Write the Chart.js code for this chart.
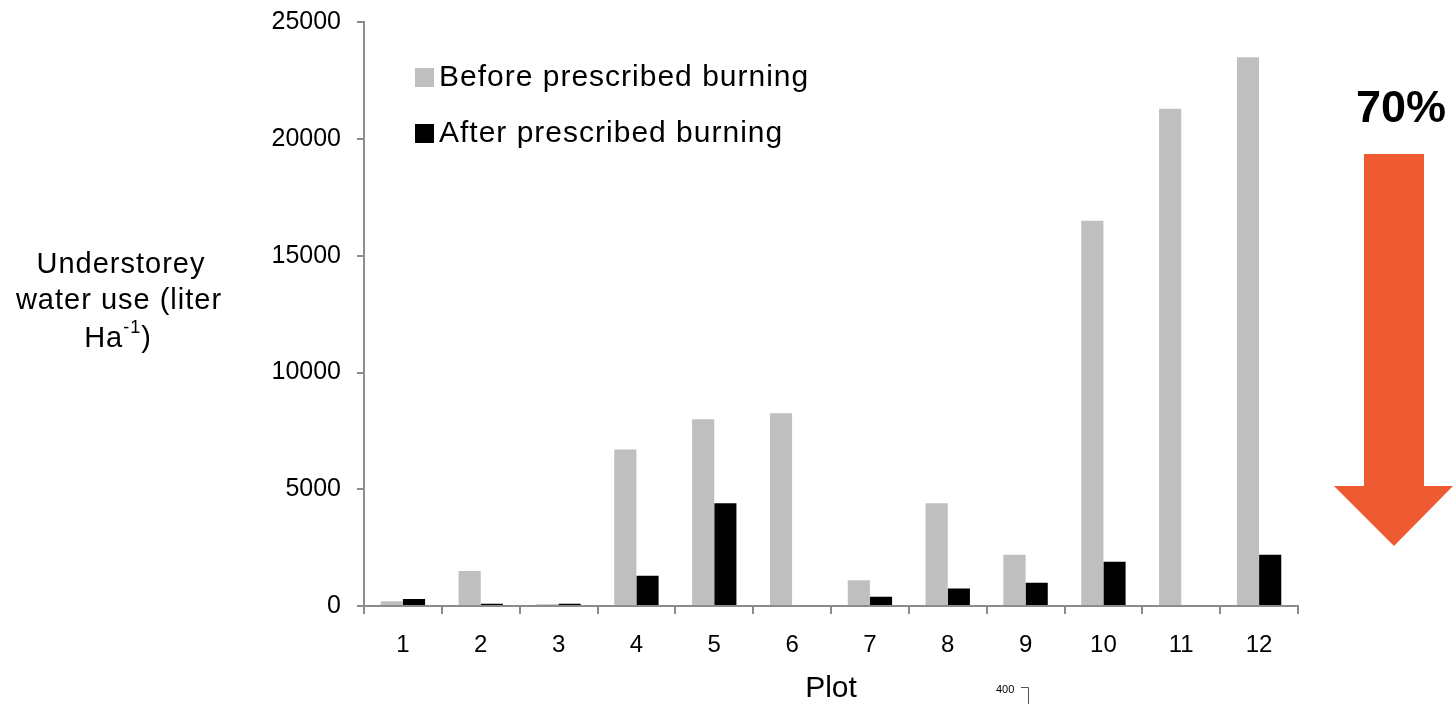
<!DOCTYPE html>
<html>
<head>
<meta charset="utf-8">
<script src="https://cdn.jsdelivr.net/npm/chart.js@4.4.1/dist/chart.umd.min.js"></script>
<style>
  html, body { margin: 0; padding: 0; background: #fff; }
  #wrap { width: 1453px; height: 704px; position: relative; }
</style>
</head>
<body>
<div id="wrap"><canvas id="c" width="1453" height="704"></canvas></div>
<script>
const plots = ["1","2","3","4","5","6","7","8","9","10","11","12"];
const beforeBurning = [200, 1500, 80, 6700, 8000, 8250, 1100, 4400, 2200, 16500, 21300, 23500];
const afterBurning = [300, 100, 100, 1300, 4400, 0, 400, 750, 1000, 1900, 0, 2200];
const yTicks = [0, 5000, 10000, 15000, 20000, 25000];

const FONT = "'Liberation Sans', Arial, sans-serif";
const axisGrey = "#8c8c8c";

// extra drawing: y title, legend, arrow, stray label
const extras = {
  id: "extras",
  afterDraw(chart) {
    const ctx = chart.ctx;
    ctx.save();
    ctx.fillStyle = "#000";
    ctx.textBaseline = "middle";
    ctx.textAlign = "center";
    ctx.letterSpacing = "1px";
    ctx.font = "29px " + FONT;
    ctx.fillText("Understorey", 121, 265);
    ctx.fillText("water use (liter", 119, 301);
    // Ha-1) with superscript
    const a = "Ha", sup = "-1", b = ")";
    const wa = ctx.measureText(a).width, wb = ctx.measureText(b).width;
    ctx.font = "18px " + FONT;
    const ws = ctx.measureText(sup).width;
    let x = 118 - (wa + ws + wb) / 2;
    ctx.textAlign = "left";
    ctx.font = "29px " + FONT;
    ctx.fillText(a, x, 339);
    ctx.font = "18px " + FONT;
    ctx.fillText(sup, x + wa, 328);
    ctx.font = "29px " + FONT;
    ctx.fillText(b, x + wa + ws, 339);

    // legend
    const sets = chart.data.datasets;
    const rows = [78, 134];
    sets.forEach((ds, i) => {
      ctx.fillStyle = ds.backgroundColor;
      ctx.fillRect(415, rows[i] - 10, 19, 19);
      ctx.fillStyle = "#000";
      ctx.font = "30px " + FONT;
      ctx.textAlign = "left";
      ctx.fillText(ds.label, 439, rows[i]);
    });

    // 70% and arrow
    ctx.letterSpacing = "0px";
    ctx.font = "bold 45px " + FONT;
    ctx.textAlign = "center";
    ctx.fillText("70%", 1401, 110);
    ctx.fillStyle = "#EE5B33";
    ctx.beginPath();
    ctx.moveTo(1364, 154);
    ctx.lineTo(1424, 154);
    ctx.lineTo(1424, 486);
    ctx.lineTo(1453, 486);
    ctx.lineTo(1394, 546);
    ctx.lineTo(1334, 486);
    ctx.lineTo(1364, 486);
    ctx.closePath();
    ctx.fill();

    // stray "400" mark
    ctx.fillStyle = "#000";
    ctx.font = "11px " + FONT;
    ctx.textAlign = "left";
    ctx.fillText("400", 996, 690);
    ctx.strokeStyle = "#555";
    ctx.lineWidth = 1;
    ctx.beginPath();
    ctx.moveTo(1021, 687.5);
    ctx.lineTo(1028.5, 687.5);
    ctx.lineTo(1028.5, 704);
    ctx.stroke();
    ctx.restore();
  }
};

new Chart(document.getElementById("c"), {
  type: "bar",
  data: {
    labels: plots,
    datasets: [
      { label: "Before prescribed burning", data: beforeBurning, backgroundColor: "#bfbfbf" },
      { label: "After prescribed burning", data: afterBurning, backgroundColor: "#000000" }
    ]
  },
  options: {
    responsive: false,
    animation: false,
    layout: { padding: { left: 0, top: 17, right: 155, bottom: 0 } },
    datasets: { bar: { categoryPercentage: 0.57, barPercentage: 1.0 } },
    plugins: { legend: { display: false }, tooltip: { enabled: false } },
    scales: {
      x: {
        offset: true,
        grid: { offset: true, drawOnChartArea: false, tickLength: 8, color: axisGrey, lineWidth: 2 },
        border: { color: axisGrey, width: 2 },
        ticks: { color: "#000", font: { family: FONT, size: 24 }, padding: 17, maxRotation: 0 },
        title: { display: true, text: "Plot", color: "#000", font: { family: FONT, size: 30, lineHeight: 1.0 }, padding: { top: 0, bottom: 0 } },
        afterFit(scale) { scale.height = 98; }
      },
      y: {
        min: 0,
        max: 25000,
        afterBuildTicks(scale) { scale.ticks = yTicks.map(v => ({ value: v })); },
        grid: { drawOnChartArea: false, tickLength: 7, color: axisGrey, lineWidth: 2 },
        border: { color: axisGrey, width: 2 },
        ticks: { color: "#000", font: { family: FONT, size: 25, lineHeight: 0.5 }, padding: 16, callback: v => String(v) },
        afterFit(scale) { scale.width = 364; }
      }
    }
  },
  plugins: [extras]
});
</script>
</body>
</html>
